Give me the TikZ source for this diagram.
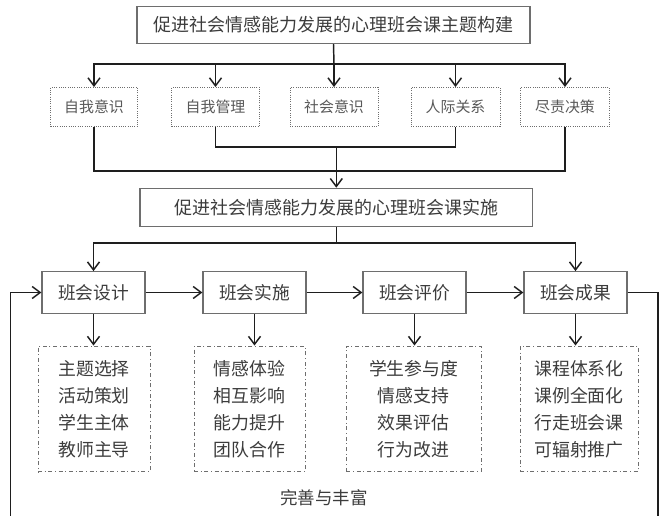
\documentclass[tikz,border=0pt]{standalone}
\usepackage{fontspec}
\newfontfamily\cjk{Noto Sans CJK SC}
\usetikzlibrary{arrows.meta}

\definecolor{boxgray}{HTML}{6E6E6E}
\definecolor{txtgray}{HTML}{3C3C3C}
\definecolor{linegray}{HTML}{1E1E1E}

\tikzset{every picture/.style={line width=0.75pt}}
\tikzset{
  mainbox/.style={draw=boxgray, line width=0.9pt, text=txtgray, inner sep=0pt,
    font=\cjk\fontsize{13.5}{16}\selectfont},
  topicbox/.style={draw=boxgray, densely dotted, line width=0.7pt, text=boxgray!80!black,
    inner sep=0pt, minimum height=29.25pt, font=\cjk\fontsize{11.2}{14}\selectfont},
  stagebox/.style={draw=boxgray, line width=0.9pt, text=txtgray, inner sep=0pt,
    minimum width=77.25pt, minimum height=31.2pt, font=\cjk\fontsize{13.3}{16}\selectfont},
  listbox/.style={draw=boxgray, dash dot, line width=0.6pt, text=txtgray, inner sep=0pt,
    align=center, minimum height=94.3pt, font=\cjk\fontsize{13.4}{20.25}\selectfont},
  conn/.style={draw=linegray, line width=1.1pt},
  arr/.style={conn, -{Straight Barb[length=6pt,width=9pt]}}
}

\begin{document}
\begin{tikzpicture}[x=0.75pt,y=0.75pt,yscale=-1,xscale=1]
	\useasboundingbox (0,0) rectangle (660,516);
	
	% Theme construction
	\node [mainbox, minimum width=294.75pt, minimum height=27.75pt] (theme) at (333.5,25) {促进社会情感能力发展的心理班会课主题构建};
	
	\node [topicbox, minimum width=65.25pt] (selfaw) at (94,107) {自我意识};
	\node [topicbox, minimum width=66pt] (selfmg) at (215.5,107) {自我管理};
	\node [topicbox, minimum width=66pt] (socaw) at (334,107) {社会意识};
	\node [topicbox, minimum width=66.75pt] (relat) at (455.5,107) {人际关系};
	\node [topicbox, minimum width=66.75pt] (decis) at (565,107) {尽责决策};
	
	% Implementation
	\node [mainbox, minimum width=294.5pt, minimum height=28.8pt] (impl) at (336.3,207.5) {促进社会情感能力发展的心理班会课实施};
	
	\node [stagebox] (design) at (93.5,292.5) {班会设计};
	\node [stagebox] (carry) at (254.5,292.5) {班会实施};
	\node [stagebox] (evalu) at (414.5,292.5) {班会评价};
	\node [stagebox] (result) at (575.5,292.5) {班会成果};
	
	\node [listbox, minimum width=84pt] (ldesign) at (94,408.8) {主题选择\\活动策划\\学生主体\\教师主导};
	\node [listbox, minimum width=83.25pt] (lcarry) at (249.5,408.8) {情感体验\\相互影响\\能力提升\\团队合作};
	\node [listbox, minimum width=100.9pt] (levalu) at (413.7,408.8) {学生参与度\\情感支持\\效果评估\\行为改进};
	\node [listbox, minimum width=88.5pt] (lresult) at (579,408.8) {课程体系化\\课例全面化\\行走班会课\\可辐射推广};
	
	\node [text=txtgray, inner sep=0pt, font=\cjk\fontsize{13.1}{16}\selectfont] (loop) at (324,498) {完善与丰富};
	
	% Split and merge points
	\coordinate (split1) at (334,64);
	\coordinate (merge1) at (336.3,147);
	\coordinate (merge2) at (336.3,171);
	\coordinate (split2) at (336.3,243);
	\coordinate (loopr) at (658,292.5);
	\coordinate (loopbr) at (658,520);
	\coordinate (loopbl) at (10.5,520);
	\coordinate (loopl) at (10.5,292.5);
	
	% Connectors
	\draw [conn] (theme.south) -- (split1);
	\draw [arr] (split1) -| (selfaw.north);
	\draw [arr] (split1) -| (selfmg.north);
	\draw [arr] (split1) -- (socaw.north);
	\draw [arr] (split1) -| (relat.north);
	\draw [arr] (split1) -| (decis.north);
	
	\draw [conn] (selfmg.south) |- (merge1) -| (relat.south);
	\draw [conn] (selfaw.south) |- (merge2) -| (decis.south);
	\draw [arr] (merge1) -- (impl.north);
	
	\draw [conn] (impl.south) -- (split2);
	\draw [arr] (split2) -| (design.north);
	\draw [arr] (split2) -| (result.north);
	
	\draw [arr] (design) -- (carry);
	\draw [arr] (carry) -- (evalu);
	\draw [arr] (evalu) -- (result);
	
	\draw [arr] (design.south) -- (design.south |- ldesign.north);
	\draw [arr] (carry.south) -- (carry.south |- lcarry.north);
	\draw [arr] (evalu.south) -- (evalu.south |- levalu.north);
	\draw [arr] (result.south) -- (result.south |- lresult.north);
	
	\draw [arr] (result.east) -- (loopr) -- (loopbr) -- (loopbl) -- (loopl) -- (design.west);
	
\end{tikzpicture}
\end{document}
